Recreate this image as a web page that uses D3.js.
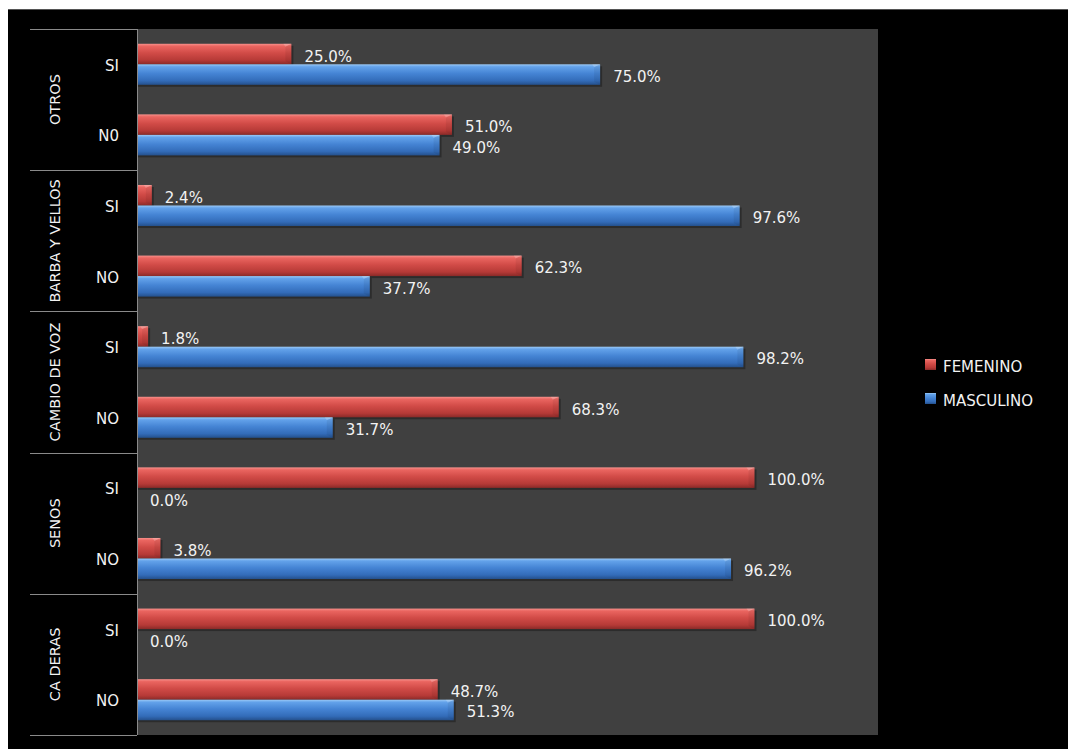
<!DOCTYPE html>
<html>
<head>
<meta charset="utf-8">
<script src="https://cdn.jsdelivr.net/npm/d3@7"></script>
<style>
  html, body { margin: 0; padding: 0; background: #ffffff; }
  svg { display: block; }
  text { font-family: "DejaVu Sans", sans-serif; fill: #f2f2f2; }
</style>
</head>
<body>
<svg id="chart" width="1068" height="749"></svg>
<script>
// ---- data ----
const groups = ["OTROS", "BARBA Y VELLOS", "CAMBIO DE VOZ", "SENOS", "CA DERAS"];
const subLabels = [["SI", "N0"], ["SI", "NO"], ["SI", "NO"], ["SI", "NO"], ["SI", "NO"]];
const seriesNames = ["FEMENINO", "MASCULINO"];
const femenino = [25.0, 51.0, 2.4, 62.3, 1.8, 68.3, 100.0, 3.8, 100.0, 48.7];
const masculino = [75.0, 49.0, 97.6, 37.7, 98.2, 31.7, 0.0, 96.2, 0.0, 51.3];

// ---- build rows ----
const rows = [];
groups.forEach((g, gi) => {
  subLabels[gi].forEach((s, si) => {
    const idx = rows.length;
    rows.push({ id: idx, group: g, gi, label: s, values: [femenino[idx], masculino[idx]] });
  });
});

const svg = d3.select("#chart");
const W = 1068, H = 749;

// black chart area
svg.append("rect").attr("x", 8).attr("y", 9).attr("width", W - 8).attr("height", H - 9).attr("fill", "#000");
svg.append("line").attr("x1", 8).attr("x2", W).attr("y1", 9.5).attr("y2", 9.5).attr("stroke", "#555").attr("stroke-width", 1);

const plot = { left: 137, right: 878, top: 29, bottom: 735 };

svg.append("rect")
  .attr("x", plot.left).attr("y", plot.top)
  .attr("width", plot.right - plot.left).attr("height", plot.bottom - plot.top)
  .attr("fill", "#404040");

const x = d3.scaleLinear().domain([0, 120]).range([plot.left, plot.right]);
const yRow = d3.scaleBand().domain(rows.map(r => r.id)).range([plot.top, plot.bottom]).paddingInner(0).paddingOuter(0);
const ySer = d3.scaleBand().domain([0, 1]).range([0, yRow.bandwidth()]).paddingInner(0).paddingOuter(0.72);

// gradients
const defs = svg.append("defs");
const grads = [
  { id: "gRed", stops: [[0, "#f7908b"], [0.12, "#ea6560"], [0.45, "#d14b47"], [0.8, "#b63a37"], [1, "#8a2a28"]] },
  { id: "gBlue", stops: [[0, "#9ccaf7"], [0.12, "#63a2ea"], [0.45, "#4584d4"], [0.8, "#336cb9"], [1, "#24508c"]] }
];
grads.forEach(g => {
  const lg = defs.append("linearGradient").attr("id", g.id).attr("x1", 0).attr("y1", 0).attr("x2", 0).attr("y2", 1);
  g.stops.forEach(s => lg.append("stop").attr("offset", s[0]).attr("stop-color", s[1]));
});
const fills = ["url(#gRed)", "url(#gBlue)"];

// bars
const bars = svg.append("g");
rows.forEach(r => {
  r.values.forEach((v, si) => {
    const y0 = yRow(r.id) + ySer(si);
    const h = ySer.bandwidth();
    const x0 = x(0), x1 = x(v);
    const w = x1 - x0;
    if (w > 0) {
      // shadow
      bars.append("rect").attr("x", x0 + 1).attr("y", y0 + 2).attr("width", w + 1).attr("height", h)
        .attr("fill", "#000").attr("opacity", 0.3);
      bars.append("rect").attr("x", x0).attr("y", y0).attr("width", w).attr("height", h).attr("fill", fills[si]);
      // subtle bevel at right end
      const bw = Math.min(6, w);
      bars.append("path")
        .attr("d", `M${x1 - bw},${y0 + 3} L${x1},${y0} L${x1},${y0 + h} L${x1 - bw},${y0 + h - 3} Z`)
        .attr("fill", "#000").attr("opacity", 0.06);
      bars.append("path")
        .attr("d", `M${x1 - bw},${y0 + 3} L${x1},${y0} L${x1 - bw - 2},${y0} Z`)
        .attr("fill", "#fff").attr("opacity", 0.2);
    }
    svg.append("text")
      .attr("x", x1 + 13)
      .attr("y", y0 + h / 2 + 3)
      .attr("dominant-baseline", "middle")
      .attr("font-size", 15)
      .text(v.toFixed(1) + "%");
  });
});

// left axis line
svg.append("line").attr("x1", plot.left + 0.5).attr("x2", plot.left + 0.5)
  .attr("y1", plot.top).attr("y2", plot.bottom).attr("stroke", "#8a8a8a").attr("stroke-width", 1);

// group separators
const groupBounds = d3.range(groups.length + 1).map(i => plot.top + i * (plot.bottom - plot.top) / groups.length);
groupBounds.forEach(gy => {
  svg.append("line").attr("x1", 30).attr("x2", plot.left)
    .attr("y1", Math.round(gy) + 0.5).attr("y2", Math.round(gy) + 0.5)
    .attr("stroke", "#8a8a8a").attr("stroke-width", 1);
});

// sub labels
rows.forEach(r => {
  svg.append("text")
    .attr("x", 119)
    .attr("y", yRow(r.id) + yRow.bandwidth() / 2 + 2)
    .attr("text-anchor", "end")
    .attr("dominant-baseline", "middle")
    .attr("font-size", 15)
    .text(r.label);
});

// group labels (rotated)
groups.forEach((g, gi) => {
  const cy = (groupBounds[gi] + groupBounds[gi + 1]) / 2;
  svg.append("text")
    .attr("transform", `translate(56,${cy}) rotate(-90)`)
    .attr("text-anchor", "middle")
    .attr("dominant-baseline", "middle")
    .attr("font-size", 14.5)
    .text(g);
});

// legend
const legendY = [365, 399];
seriesNames.forEach((s, i) => {
  svg.append("rect").attr("x", 925).attr("y", legendY[i] - 6).attr("width", 11).attr("height", 11)
    .attr("fill", fills[i]);
  svg.append("text").attr("x", 943).attr("y", legendY[i] + 2)
    .attr("dominant-baseline", "middle").attr("font-size", 15).text(s);
});
</script>
</body>
</html>
